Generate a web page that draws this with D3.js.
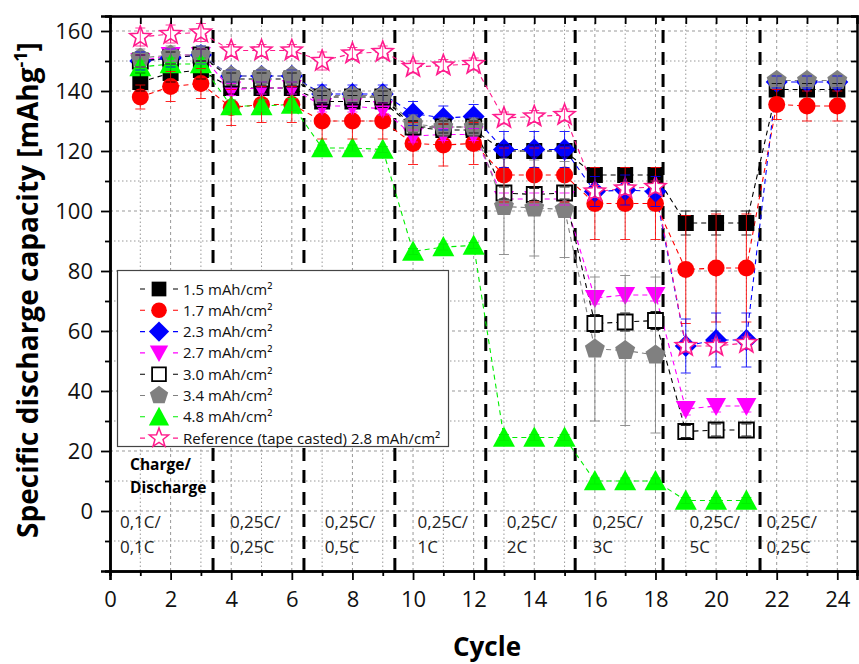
<!DOCTYPE html>
<html>
<head>
<meta charset="utf-8">
<script src="https://cdn.jsdelivr.net/npm/d3@7"></script>
<style>
  body { margin: 0; background: #fff; }
  text { font-family: 'Open Sans', sans-serif; }
</style>
</head>
<body>
<div id="chart"></div>
<script>
// cycle numbers 1..24
const cycles = [1,2,3,4,5,6,7,8,9,10,11,12,13,14,15,16,17,18,19,20,21,22,23,24];

// specific discharge capacity (mAh/g), null = not measured
const s15  = [143,146,147, 141,141,141, 136.5,136.5,136.5, 128,127,127, 120,120,120, 112,112,112, 96,96,96, 140.5,140.5,140.5];
const s17  = [138,141.5,142.5, 134.5,135.5,135.5, 130,130,130, 122.5,122,122.5, 112,112,112, 102.5,102.5,102.5, 80.5,81,81, 135.5,135,135];
const s23  = [150,151,152, 145,145,145, 139,139,139, 132.5,131,131.5, 120.5,120.5,120.5, 106.5,107,106.5, 55,57,57, 143,143,143];
const s27  = [150,152,152, 140.5,141,141, 135,135,134, 125,125.5,125.5, 104,104,104, 71,72,72, 34,35,35, null,null,null];
const s30  = [150,151,152, 144,144,144, 138,138,138, 128,128,128, 106,105.5,106, 62.5,63,63.5, 26.5,27,27, null,null,null];
const s34  = [151,152,152, 145,145,145, 138.5,138.5,138.5, 129,128,128, 101.5,101,100.5, 54,53.5,52, null,null,null, 143.5,143.5,143.5];
const s48  = [148,149,149, 135,135,135.5, 121,121,120.5, 86.5,88,88.5, 24.5,24.5,24.5, 10,10,10, 3.5,3.5,3.5, null,null,null];
const sRef = [158,159,159.5, 153.5,153.5,153.5, 150,152.5,153, 148,148.5,149, 131,131.5,132, 106.5,107.5,108, 55,55,56, null,null,null];

// standard deviations (error bars)
const e15  = [3,3,3, 2,2,2, 2,2,2, 2,2,2, 2,2,2, 2,2,2, 4,4,4, 2,2,2];
const e17  = [4,5,5, 6,6,6, 6,6,6, 7,7,7, 9,9,9, 12,12,12, 18,18,18, 5,5,5];
const e23  = [3,3,3, 2,2,2, 3,3,3, 4,4,4, 6,6,6, 5,5,5, 9,9,9, 2,2,2];
const e27  = [2,2,2, 2,2,2, 2,2,2, 2,2,2, 2,2,2, 2,2,2, 2,2,2, null,null,null];
const e30  = [2,2,2, 2,2,2, 2,2,2, 2,2,2, 2,2,2, 3,3,3, 2,2,2, null,null,null];
const e34  = [3,3,3, 2,2,2, 2,2,2, 3,3,3, 16,16,16, 24,25,26, null,null,null, 2,2,2];
const e48  = [2,2,2, 2,2,2, 1,1,1, 1,1,1, 1,1,1, 1,1,1, 1,1,1, null,null,null];
const eRef = [3,3,3, 2,2,2, 3,2,2, 2,2,2, 2,2,2, 2,2,2, 2,2,2, null,null,null];

const legendNames = ["1.5 mAh/cm²","1.7 mAh/cm²","2.3 mAh/cm²","2.7 mAh/cm²","3.0 mAh/cm²","3.4 mAh/cm²","4.8 mAh/cm²","Reference (tape casted) 2.8 mAh/cm²"];

// rate step separators and labels (cycle units)
const separators = [3.4, 6.4, 9.4, 12.4, 15.35, 18.25, 21.45];
const rateLabels = [
  {x: 0.33, l1: "0,1C/", l2: "0,1C"},
  {x: 3.96, l1: "0,25C/", l2: "0,25C"},
  {x: 7.09, l1: "0,25C/", l2: "0,5C"},
  {x: 10.15, l1: "0,25C/", l2: "1C"},
  {x: 13.09, l1: "0,25C/", l2: "2C"},
  {x: 15.92, l1: "0,25C/", l2: "3C"},
  {x: 19.12, l1: "0,25C/", l2: "5C"},
  {x: 21.66, l1: "0,25C/", l2: "0,25C"}
];

const xTicks = [0,2,4,6,8,10,12,14,16,18,20,22,24];
const yTicks = [0,20,40,60,80,100,120,140,160];

// marker shapes (size = radius)
const shapes = {
  square: {draw(c, r) { c.rect(-r, -r, 2*r, 2*r); }},
  circle: {draw(c, r) { c.moveTo(r, 0); c.arc(0, 0, r, 0, 2*Math.PI); }},
  diamond: {draw(c, r) { c.moveTo(0,-r); c.lineTo(r,0); c.lineTo(0,r); c.lineTo(-r,0); c.closePath(); }},
  triDown: {draw(c, r) { c.moveTo(-r,-0.8*r); c.lineTo(r,-0.8*r); c.lineTo(0,r); c.closePath(); }},
  triUp: {draw(c, r) { c.moveTo(-r,0.85*r); c.lineTo(r,0.85*r); c.lineTo(0,-r); c.closePath(); }},
  pentagon: {draw(c, r) {
    for (let i = 0; i < 5; i++) {
      const a = -Math.PI/2 + i*2*Math.PI/5;
      i ? c.lineTo(r*Math.cos(a), r*Math.sin(a)) : c.moveTo(r*Math.cos(a), r*Math.sin(a));
    }
    c.closePath();
  }},
  star: {draw(c, r) {
    for (let i = 0; i < 10; i++) {
      const a = -Math.PI/2 + i*Math.PI/5, rr = i % 2 ? r*0.42 : r;
      i ? c.lineTo(rr*Math.cos(a), rr*Math.sin(a)) : c.moveTo(rr*Math.cos(a), rr*Math.sin(a));
    }
    c.closePath();
  }}
};

const series = [
  {vals: s15,  err: e15,  color: "#000000", fill: "#000000", shape: "square", r: 8},
  {vals: s17,  err: e17,  color: "#ff0000", fill: "#ff0000", shape: "circle", r: 8.5},
  {vals: s23,  err: e23,  color: "#0000ff", fill: "#0000ff", shape: "diamond", r: 11},
  {vals: s27,  err: e27,  color: "#ff00ff", fill: "#ff00ff", shape: "triDown", r: 10},
  {vals: s30,  err: e30,  color: "#000000", fill: "#ffffff", shape: "square", r: 7.5},
  {vals: s34,  err: e34,  color: "#808080", fill: "#808080", shape: "pentagon", r: 10.5},
  {vals: s48,  err: e48,  color: "#00ee00", fill: "#00ff00", shape: "triUp", r: 11},
  {vals: sRef, err: eRef, color: "#ff1a8c", fill: "#ffffff", shape: "star", r: 11}
];
series.forEach((s, i) => {
  s.name = legendNames[i];
  s.pts = cycles.map((c, j) => ({c: c, v: s.vals[j], e: s.err[j]}));
});

const W = 859, H = 664;
const svg = d3.select("#chart").append("svg").attr("width", W).attr("height", H);

const x = d3.scaleLinear().domain([0, 24.65]).range([110, 857]);
const y = d3.scaleLinear().domain([-20, 165]).range([571, 16]);
const [x0, x1] = x.range(), [y0, y1] = y.range();

// grid
const grid = svg.append("g");
d3.range(1, 25).forEach(c => {
  grid.append("line").attr("x1", x(c)).attr("x2", x(c)).attr("y1", y0).attr("y2", y1)
    .attr("stroke", "#999").attr("stroke-width", 1)
    .attr("stroke-dasharray", c % 2 ? "1.5,2.5" : "3,3");
});
d3.range(-10, 165, 10).forEach(v => {
  grid.append("line").attr("x1", x0).attr("x2", x1).attr("y1", y(v)).attr("y2", y(v))
    .attr("stroke", "#999").attr("stroke-width", 1)
    .attr("stroke-dasharray", v % 20 ? "1.5,2.5" : "3,3");
});

// rate separators
svg.append("g").selectAll("line").data(separators).join("line")
  .attr("x1", d => x(d)).attr("x2", d => x(d)).attr("y1", y0).attr("y2", y1)
  .attr("stroke", "#000").attr("stroke-width", 3).attr("stroke-dasharray", "13,9");

// connecting lines
const line = d3.line().defined(d => d.v != null).x(d => x(d.c)).y(d => y(d.v));
svg.append("g").selectAll("path").data(series).join("path")
  .attr("d", s => line(s.pts)).attr("fill", "none")
  .attr("stroke", s => s.color).attr("stroke-width", 1.1).attr("stroke-dasharray", "5,4");

// markers
const sym = d3.symbol();
series.forEach(s => {
  svg.append("g").selectAll("path").data(s.pts.filter(d => d.v != null)).join("path")
    .attr("transform", d => `translate(${x(d.c)},${y(d.v)})`)
    .attr("d", sym.type(shapes[s.shape]).size(s.r)())
    .attr("fill", s.fill)
    .attr("stroke", s.shape === "star" || s.fill === "#ffffff" ? s.color : "none")
    .attr("stroke-width", s.shape === "star" ? 1.6 : 1.8);
});

// error bars
series.forEach(s => {
  const g = svg.append("g").attr("stroke", s.color).attr("stroke-width", 1).attr("opacity", 0.85);
  s.pts.filter(d => d.v != null && d.e != null).forEach(d => {
    const cx = x(d.c), ya = y(d.v - d.e), yb = y(d.v + d.e);
    g.append("line").attr("x1", cx).attr("x2", cx).attr("y1", ya).attr("y2", yb);
    g.append("line").attr("x1", cx - 5).attr("x2", cx + 5).attr("y1", ya).attr("y2", ya);
    g.append("line").attr("x1", cx - 5).attr("x2", cx + 5).attr("y1", yb).attr("y2", yb);
  });
});

// axes
const axB = svg.append("g").attr("transform", `translate(0,${y0})`)
  .call(d3.axisBottom(x).tickValues(xTicks).tickSize(9).tickPadding(11));
svg.append("g").attr("transform", `translate(0,${y0})`)
  .call(d3.axisBottom(x).tickValues(d3.range(1, 25, 2)).tickSize(5).tickFormat(""));
svg.append("g").attr("transform", `translate(0,${y1})`)
  .call(d3.axisTop(x).tickValues(d3.range(0, 25)).tickSize(-8).tickFormat(""));
const axL = svg.append("g").attr("transform", `translate(${x0},0)`)
  .call(d3.axisLeft(y).tickValues(yTicks).tickSize(9).tickPadding(8));
svg.append("g").attr("transform", `translate(${x0},0)`)
  .call(d3.axisLeft(y).tickValues(d3.range(-10, 165, 20)).tickSize(5).tickFormat(""));
svg.append("g").attr("transform", `translate(${x1},0)`)
  .call(d3.axisRight(y).tickValues(d3.range(-20, 165, 10)).tickSize(-6).tickFormat(""));
svg.selectAll(".domain").attr("stroke-width", 2.5);
svg.selectAll(".tick line").attr("stroke-width", 1.8);
axB.selectAll("text").attr("font-size", 22).attr("font-family", "'Open Sans', sans-serif").attr("fill", "#111");
axL.selectAll("text").attr("font-size", 22).attr("font-family", "'Open Sans', sans-serif").attr("fill", "#111");

// rate labels
const rl = svg.append("g").attr("font-size", 17).attr("fill", "#222");
rateLabels.forEach(d => {
  rl.append("text").attr("x", x(d.x)).attr("y", 528).text(d.l1);
  rl.append("text").attr("x", x(d.x)).attr("y", 553).text(d.l2);
});
svg.append("text").attr("x", 130).attr("y", 470).attr("font-size", 15.5).attr("font-weight", "bold").text("Charge/");
svg.append("text").attr("x", 130).attr("y", 493).attr("font-size", 15.5).attr("font-weight", "bold").text("Discharge");

// legend
const lg = svg.append("g");
lg.append("rect").attr("x", 117.5).attr("y", 270.5).attr("width", 331).attr("height", 176)
  .attr("fill", "#fff").attr("stroke", "#444").attr("stroke-width", 1.2);
series.forEach((s, i) => {
  const cy = 289 + i * 21.3;
  lg.append("line").attr("x1", 140).attr("x2", 178).attr("y1", cy).attr("y2", cy)
    .attr("stroke", s.color).attr("stroke-width", 1.1).attr("stroke-dasharray", "5,28");
  lg.append("path").attr("transform", `translate(159,${cy})`)
    .attr("d", sym.type(shapes[s.shape]).size(s.r * 0.92)())
    .attr("fill", s.fill)
    .attr("stroke", s.shape === "star" || s.fill === "#ffffff" ? s.color : "none")
    .attr("stroke-width", s.shape === "star" ? 1.5 : 1.8);
  lg.append("text").attr("x", 183).attr("y", cy + 5.5).attr("font-size", 15).attr("fill", "#111").text(s.name);
});

// axis titles
svg.append("text").attr("x", 487).attr("y", 656).attr("text-anchor", "middle")
  .attr("font-size", 26).attr("font-weight", "bold").text("Cycle");
const yt = svg.append("text").attr("transform", "translate(38,290) rotate(-90)")
  .attr("text-anchor", "middle").attr("font-size", 28).attr("font-weight", "bold");
yt.append("tspan").text("Specific discharge capacity [mAhg");
yt.append("tspan").attr("dy", -11).attr("font-size", 18).text("-1");
yt.append("tspan").attr("dy", 11).text("]");
</script>
</body>
</html>
